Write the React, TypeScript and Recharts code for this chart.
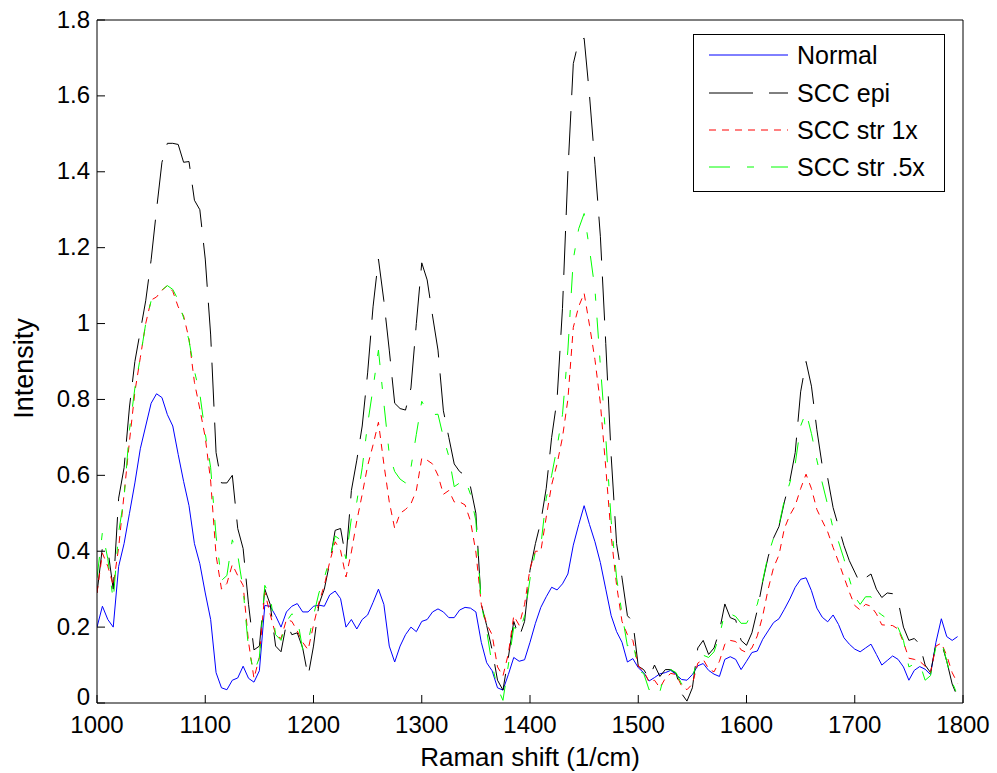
import React from 'react';
import { LineChart, Line, XAxis, YAxis, Legend } from 'recharts';

const FONT = '"Liberation Sans", Arial, Helvetica, sans-serif';

// Raman shift grid (1/cm)
const ramanShift = [
  1000, 1005, 1010, 1015, 1020, 1025, 1030, 1035, 1040, 1045, 1050, 1055, 1060, 1065, 1070, 1075, 1080, 1085, 1090, 1095,
  1100, 1105, 1110, 1115, 1120, 1125, 1130, 1135, 1140, 1145, 1150, 1155, 1160, 1165, 1170, 1175, 1180, 1185, 1190, 1195,
  1200, 1205, 1210, 1215, 1220, 1225, 1230, 1235, 1240, 1245, 1250, 1255, 1260, 1265, 1270, 1275, 1280, 1285, 1290, 1295,
  1300, 1305, 1310, 1315, 1320, 1325, 1330, 1335, 1340, 1345, 1350, 1355, 1360, 1365, 1370, 1375, 1380, 1385, 1390, 1395,
  1400, 1405, 1410, 1415, 1420, 1425, 1430, 1435, 1440, 1445, 1450, 1455, 1460, 1465, 1470, 1475, 1480, 1485, 1490, 1495,
  1500, 1505, 1510, 1515, 1520, 1525, 1530, 1535, 1540, 1545, 1550, 1555, 1560, 1565, 1570, 1575, 1580, 1585, 1590, 1595,
  1600, 1605, 1610, 1615, 1620, 1625, 1630, 1635, 1640, 1645, 1650, 1655, 1660, 1665, 1670, 1675, 1680, 1685, 1690, 1695,
  1700, 1705, 1710, 1715, 1720, 1725, 1730, 1735, 1740, 1745, 1750, 1755, 1760, 1765, 1770, 1775, 1780, 1785, 1790, 1795,
];

const normal = [
  0.20, 0.255, 0.22, 0.20, 0.36, 0.42, 0.50, 0.58, 0.67, 0.73, 0.79, 0.815, 0.805, 0.76, 0.73, 0.655, 0.584, 0.52, 0.42, 0.367,
  0.29, 0.22, 0.08, 0.04, 0.035, 0.06, 0.066, 0.097, 0.065, 0.055, 0.085, 0.257, 0.255, 0.23, 0.20, 0.24, 0.255, 0.262, 0.24, 0.24,
  0.255, 0.258, 0.255, 0.285, 0.295, 0.275, 0.20, 0.22, 0.195, 0.22, 0.232, 0.265, 0.30, 0.26, 0.15, 0.108, 0.15, 0.18, 0.20, 0.188,
  0.215, 0.22, 0.24, 0.248, 0.24, 0.225, 0.225, 0.245, 0.252, 0.25, 0.24, 0.16, 0.106, 0.085, 0.04, 0.034, 0.075, 0.12, 0.11, 0.114,
  0.16, 0.21, 0.252, 0.28, 0.305, 0.298, 0.314, 0.34, 0.416, 0.47, 0.52, 0.47, 0.425, 0.37, 0.30, 0.23, 0.188, 0.16, 0.108, 0.117,
  0.093, 0.08, 0.058, 0.067, 0.077, 0.08, 0.086, 0.075, 0.062, 0.06, 0.075, 0.098, 0.104, 0.086, 0.076, 0.07, 0.115, 0.122, 0.115, 0.088,
  0.11, 0.133, 0.137, 0.168, 0.19, 0.212, 0.222, 0.247, 0.274, 0.305, 0.326, 0.33, 0.296, 0.25, 0.226, 0.214, 0.232, 0.207, 0.172, 0.155,
  0.142, 0.135, 0.145, 0.155, 0.128, 0.10, 0.112, 0.124, 0.115, 0.095, 0.06, 0.086, 0.096, 0.089, 0.075, 0.16, 0.222, 0.175, 0.165, 0.175,
];

const sccEpi = [
  0.29, 0.41, 0.405, 0.30, 0.54, 0.62, 0.78, 0.90, 0.98, 1.06, 1.168, 1.30, 1.425, 1.475, 1.475, 1.472, 1.425, 1.427, 1.325, 1.30,
  1.17, 0.97, 0.66, 0.58, 0.58, 0.60, 0.46, 0.407, 0.26, 0.14, 0.15, 0.30, 0.26, 0.15, 0.135, 0.21, 0.18, 0.185, 0.145, 0.07,
  0.15, 0.26, 0.30, 0.37, 0.455, 0.46, 0.38, 0.56, 0.64, 0.73, 0.87, 1.044, 1.17, 1.06, 0.93, 0.79, 0.776, 0.772, 0.83, 1.0,
  1.16, 1.115, 1.02, 0.93, 0.77, 0.70, 0.63, 0.61, 0.60, 0.57, 0.50, 0.26, 0.204, 0.14, 0.06, 0.034, 0.12, 0.215, 0.173, 0.215,
  0.35, 0.42, 0.478, 0.566, 0.70, 0.80, 1.04, 1.40, 1.685, 1.745, 1.752, 1.60, 1.42, 1.23, 0.947, 0.65, 0.42, 0.33, 0.23, 0.215,
  0.097, 0.088, 0.065, 0.10, 0.07, 0.088, 0.088, 0.078, 0.025, 0.005, 0.04, 0.145, 0.165, 0.128, 0.145, 0.19, 0.261, 0.225, 0.219, 0.165,
  0.152, 0.185, 0.245, 0.32, 0.385, 0.435, 0.465, 0.53, 0.585, 0.66, 0.82, 0.90, 0.835, 0.72, 0.625, 0.593, 0.515, 0.465, 0.415, 0.375,
  0.345, 0.315, 0.33, 0.34, 0.30, 0.278, 0.29, 0.288, 0.27, 0.20, 0.165, 0.17, 0.155, 0.10, 0.08, 0.155, 0.159, 0.11, 0.05, 0.015,
];

const sccStr1x = [
  0.29, 0.395, 0.36, 0.31, 0.41, 0.55, 0.69, 0.82, 0.91, 1.00, 1.062, 1.07, 1.088, 1.10, 1.085, 1.044, 1.02, 0.96, 0.845, 0.775,
  0.70, 0.585, 0.389, 0.30, 0.315, 0.365, 0.336, 0.31, 0.16, 0.065, 0.12, 0.292, 0.234, 0.18, 0.17, 0.22, 0.215, 0.19, 0.16, 0.14,
  0.205, 0.265, 0.31, 0.372, 0.425, 0.402, 0.332, 0.398, 0.48, 0.55, 0.625, 0.68, 0.74, 0.63, 0.53, 0.46, 0.50, 0.51, 0.525, 0.56,
  0.645, 0.64, 0.63, 0.60, 0.55, 0.56, 0.53, 0.53, 0.522, 0.48, 0.398, 0.26, 0.208, 0.18, 0.095, 0.071, 0.13, 0.23, 0.205, 0.26,
  0.354, 0.40, 0.40, 0.49, 0.575, 0.63, 0.70, 0.80, 0.99, 1.045, 1.08, 0.995, 0.905, 0.79, 0.62, 0.44, 0.31, 0.215, 0.18, 0.165,
  0.097, 0.085, 0.055, 0.06, 0.04, 0.065, 0.078, 0.075, 0.045, 0.035, 0.05, 0.105, 0.115, 0.09, 0.082, 0.11, 0.155, 0.165, 0.162, 0.14,
  0.133, 0.145, 0.177, 0.23, 0.30, 0.357, 0.39, 0.46, 0.495, 0.52, 0.565, 0.603, 0.565, 0.51, 0.48, 0.451, 0.41, 0.372, 0.332, 0.292,
  0.257, 0.245, 0.26, 0.255, 0.235, 0.206, 0.205, 0.204, 0.195, 0.16, 0.118, 0.115, 0.11, 0.097, 0.08, 0.15, 0.158, 0.125, 0.08, 0.052,
];

const sccStrHalf = [
  0.33, 0.45, 0.38, 0.27, 0.45, 0.54, 0.72, 0.83, 0.91, 1.0, 1.06, 1.068, 1.088, 1.10, 1.09, 1.062, 1.015, 0.955, 0.875, 0.815,
  0.71, 0.62, 0.44, 0.323, 0.336, 0.43, 0.39, 0.30, 0.142, 0.08, 0.12, 0.31, 0.283, 0.18, 0.165, 0.215, 0.235, 0.225, 0.14, 0.16,
  0.23, 0.29, 0.33, 0.38, 0.44, 0.43, 0.38, 0.487, 0.53, 0.62, 0.735, 0.83, 0.93, 0.79, 0.655, 0.61, 0.59, 0.58, 0.62, 0.708,
  0.795, 0.77, 0.76, 0.761, 0.70, 0.65, 0.57, 0.58, 0.59, 0.55, 0.48, 0.26, 0.19, 0.10, 0.04, 0.007, 0.10, 0.20, 0.185, 0.23,
  0.327, 0.40, 0.415, 0.54, 0.60, 0.675, 0.76, 0.93, 1.17, 1.25, 1.29, 1.195, 1.09, 0.89, 0.70, 0.48, 0.33, 0.235, 0.15, 0.165,
  0.085, 0.078, 0.035, 0.05, 0.03, 0.082, 0.088, 0.08, 0.05, 0.049, 0.065, 0.12, 0.126, 0.12, 0.135, 0.177, 0.239, 0.235, 0.228, 0.21,
  0.21, 0.236, 0.26, 0.323, 0.39, 0.435, 0.469, 0.535, 0.58, 0.63, 0.73, 0.767, 0.71, 0.64, 0.58, 0.522, 0.46, 0.425, 0.38, 0.327,
  0.28, 0.26, 0.28, 0.28, 0.243, 0.232, 0.222, 0.212, 0.199, 0.165, 0.095, 0.103, 0.105, 0.06, 0.072, 0.15, 0.165, 0.11, 0.055, 0.02,
];

const seriesNames = ['Normal', 'SCC epi', 'SCC str 1x', 'SCC str .5x'];
const xTicks = [1000, 1100, 1200, 1300, 1400, 1500, 1600, 1700, 1800];
const yTicks = [0, 0.2, 0.4, 0.6, 0.8, 1, 1.2, 1.4, 1.6, 1.8];

const data = ramanShift.map((x, i) => ({
  x,
  normal: normal[i],
  epi: sccEpi[i],
  str1x: sccStr1x[i],
  strHalf: sccStrHalf[i],
}));

const seriesStyles = [
  { key: 'normal', color: '#0000ff', dash: undefined as string | undefined },
  { key: 'epi', color: '#000000', dash: '44 16' },
  { key: 'str1x', color: '#ff0000', dash: '7 6' },
  { key: 'strHalf', color: '#00ff00', dash: '21 17 7 17' },
];

const legendRows = [21, 59, 96, 133];

function LegendBox() {
  return (
    <div
      style={{
        position: 'absolute',
        left: 693,
        top: 34,
        width: 252,
        height: 158,
        border: '1px solid #000',
        background: '#fff',
        boxSizing: 'border-box',
      }}
    >
      <svg width={252} height={158} style={{ position: 'absolute', left: -1, top: -1 }}>
        {seriesStyles.map((s, i) => (
          <g key={s.key}>
            <line
              x1={16}
              x2={95}
              y1={legendRows[i]}
              y2={legendRows[i]}
              stroke={s.color}
              strokeWidth={1}
              strokeDasharray={s.dash}
            />
            <text x={104} y={legendRows[i] + 9} fontFamily={FONT} fontSize={25} fill="#000">
              {seriesNames[i]}
            </text>
          </g>
        ))}
      </svg>
    </div>
  );
}

const fmtY = (v: number) => String(Math.round(v * 10) / 10);

const tickStyle = { fill: '#000', fontSize: 24, fontFamily: FONT };

function YTick(props: any) {
  const { x, y, payload } = props;
  const shift = payload.value === 0 ? -7 : -1;
  return (
    <text x={x} y={y + shift} dy="0.355em" textAnchor="end" fontFamily={FONT} fontSize={24} fill="#000">
      {fmtY(payload.value)}
    </text>
  );
}

export default function App() {
  return (
    <div style={{ position: 'absolute', left: 0, top: 0, width: 997, height: 773, background: '#fff' }}>
      <LineChart
        width={997}
        height={773}
        data={data}
        margin={{ top: 19, right: 33, bottom: 20, left: 0 }}
      >
        <XAxis
          dataKey="x"
          type="number"
          domain={[1000, 1800]}
          ticks={xTicks}
          interval={0}
          allowDataOverflow
          height={50}
          stroke="#000"
          tickSize={-8}
          tickMargin={21}
          tick={tickStyle}
          label={(props: any) => {
            const vb = props.viewBox || { x: 97, y: 703, width: 866 };
            return (
              <text
                x={vb.x + vb.width / 2}
                y={vb.y + 63}
                textAnchor="middle"
                fontFamily={FONT}
                fontSize={26}
                fill="#000"
              >
                Raman shift (1/cm)
              </text>
            );
          }}
        />
        <XAxis
          xAxisId="top"
          orientation="top"
          dataKey="x"
          type="number"
          domain={[1000, 1800]}
          ticks={xTicks}
          interval={0}
          allowDataOverflow
          height={1}
          stroke="#000"
          tickSize={-8}
          tick={false}
        />
        <YAxis
          type="number"
          domain={[0, 1.8]}
          ticks={yTicks}
          interval={0}
          allowDataOverflow
          width={97}
          stroke="#000"
          tickSize={-8}
          tickMargin={15}
          tick={<YTick />}
          label={(props: any) => {
            const vb = props.viewBox || { x: 0, y: 20, width: 97, height: 683 };
            const cx = vb.x + 33;
            const cy = vb.y + vb.height / 2 + 7;
            return (
              <text
                x={cx}
                y={cy}
                textAnchor="middle"
                transform={`rotate(-90 ${cx} ${cy})`}
                fontFamily={FONT}
                fontSize={27}
                fill="#000"
              >
                Intensity
              </text>
            );
          }}
        />
        <YAxis
          yAxisId="right"
          orientation="right"
          type="number"
          domain={[0, 1.8]}
          ticks={yTicks}
          interval={0}
          allowDataOverflow
          width={1}
          stroke="#000"
          tickSize={-8}
          tick={false}
        />
        {seriesStyles.map((s, i) => (
          <Line
            key={s.key}
            name={seriesNames[i]}
            dataKey={s.key}
            type="linear"
            stroke={s.color}
            strokeWidth={1}
            strokeDasharray={s.dash}
            dot={false}
            activeDot={false}
            isAnimationActive={false}
          />
        ))}
        <Legend
          layout="vertical"
          align="center"
          verticalAlign="middle"
          wrapperStyle={{ position: 'absolute', left: 0, top: 0, width: 0, height: 0 }}
          content={() => <LegendBox />}
        />
      </LineChart>
    </div>
  );
}
